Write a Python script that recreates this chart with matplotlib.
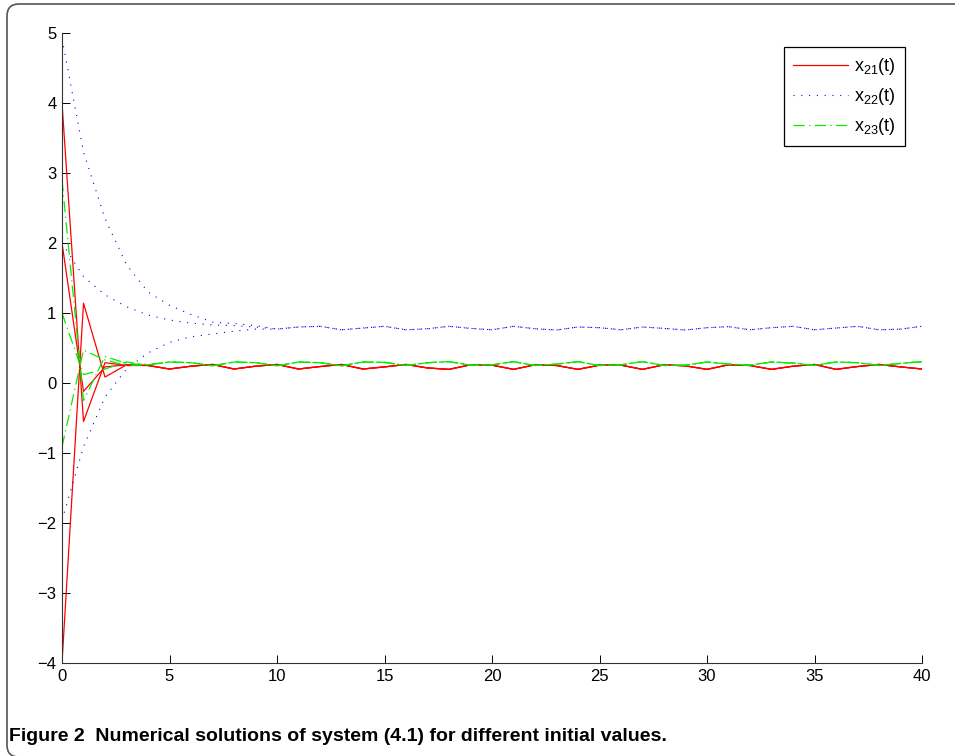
import numpy as np
import matplotlib
matplotlib.use("Agg")
import matplotlib.pyplot as plt
from matplotlib.patches import FancyBboxPatch
from matplotlib.transforms import IdentityTransform

plt.rcParams['font.family'] = ['Liberation Sans', 'DejaVu Sans']

# time steps
t = np.arange(0, 41)

# x21: three initial values, t = 0..3, then a common tail t = 4..40
x21_a = [4.0, -0.55, 0.29, 0.25]
x21_b = [2.0, -0.12, 0.23, 0.26]
x21_c = [-4.0, 1.14, 0.085, 0.26]
x21_tail = [0.25, 0.20, 0.24, 0.265, 0.20, 0.24, 0.265, 0.20, 0.235, 0.265,
            0.20, 0.23, 0.265, 0.215, 0.195, 0.26, 0.255, 0.195, 0.26, 0.25,
            0.195, 0.255, 0.255, 0.195, 0.26, 0.245, 0.195, 0.26, 0.25, 0.195,
            0.24, 0.265, 0.195, 0.235, 0.265, 0.23, 0.20]

# x22: t = 0..9, then a common tail t = 10..40
x22_a = [4.92, 3.30, 2.35, 1.69, 1.30, 1.11, 0.98, 0.87, 0.85, 0.82]
x22_b = [2.0, 1.52, 1.26, 1.09, 0.97, 0.90, 0.855, 0.83, 0.82, 0.80]
x22_c = [-1.96, -0.91, -0.20, 0.20, 0.43, 0.58, 0.66, 0.70, 0.74, 0.77]
x22_tail = [0.77, 0.80, 0.81, 0.76, 0.785, 0.81, 0.76, 0.775, 0.81, 0.78,
            0.76, 0.81, 0.775, 0.757, 0.80, 0.79, 0.76, 0.80, 0.78, 0.757,
            0.79, 0.805, 0.76, 0.79, 0.81, 0.76, 0.785, 0.81, 0.76, 0.77, 0.81]

# x23: t = 0..3, then a common tail t = 4..40
x23_a = [2.9, -0.25, 0.38, 0.28]
x23_b = [1.0, 0.12, 0.20, 0.30]
x23_c = [-0.91, 0.47, 0.33, 0.25]
x23_tail = [0.26, 0.30, 0.29, 0.245, 0.30, 0.29, 0.245, 0.30, 0.29, 0.245,
            0.30, 0.295, 0.25, 0.29, 0.305, 0.255, 0.26, 0.305, 0.25, 0.27,
            0.305, 0.25, 0.26, 0.305, 0.25, 0.255, 0.30, 0.27, 0.255, 0.30,
            0.285, 0.25, 0.30, 0.29, 0.25, 0.28, 0.305]

caption = "Figure 2  Numerical solutions of system (4.1) for different initial values."

fig = plt.figure(figsize=(9.55, 7.56), dpi=100)
ax = fig.add_axes([62 / 955, 1 - 663 / 756, 860 / 955, 630 / 756])

red_style = dict(color='#ff0000', lw=0.9, linestyle='-')
blue_style = dict(color='#0000ff', lw=0.8, linestyle=(0, (1, 6)))
green_style = dict(color='#00ee00', lw=0.9, linestyle=(0, (9, 3.5, 1, 3.5)))

for i, early in enumerate([x21_a, x21_b, x21_c]):
    ax.plot(t, early + x21_tail, label=r'x$_{\mathregular{21}}$(t)' if i == 0 else None, **red_style)
for i, early in enumerate([x22_a, x22_b, x22_c]):
    ax.plot(t, early + x22_tail, label=r'x$_{\mathregular{22}}$(t)' if i == 0 else None, **blue_style)
for i, early in enumerate([x23_a, x23_b, x23_c]):
    ax.plot(t, early + x23_tail, label=r'x$_{\mathregular{23}}$(t)' if i == 0 else None, **green_style)

ax.set_xlim(0, 40)
ax.set_ylim(-4, 5)
ax.set_xticks(range(0, 41, 5))
ax.set_yticks(range(-4, 6))
ax.spines['top'].set_visible(False)
ax.spines['right'].set_visible(False)
for s in ['left', 'bottom']:
    ax.spines[s].set_linewidth(0.8)
    ax.spines[s].set_color('#333333')
ax.tick_params(direction='in', length=6, width=0.7, labelsize=12, pad=4, color='black')

leg = ax.legend(loc='upper right', bbox_to_anchor=(0.980, 0.978), borderaxespad=0,
                fontsize=13, handlelength=3.05, handletextpad=0.33, labelspacing=0.5,
                borderpad=0.5, fancybox=False, framealpha=1)
leg.get_frame().set_edgecolor('black')
leg.get_frame().set_linewidth(0.9)

# rounded frame around the figure panel
frame = FancyBboxPatch((7, -1), 980, 753, boxstyle="round,pad=0,rounding_size=12",
                       transform=IdentityTransform(), fill=False, edgecolor='#555555', lw=1.2)
fig.add_artist(frame)

fig.text(9 / 955, 1 - 741 / 756, caption, fontsize=14, fontweight='bold',
         va='baseline', ha='left')

fig.savefig("out.png", dpi=100)
